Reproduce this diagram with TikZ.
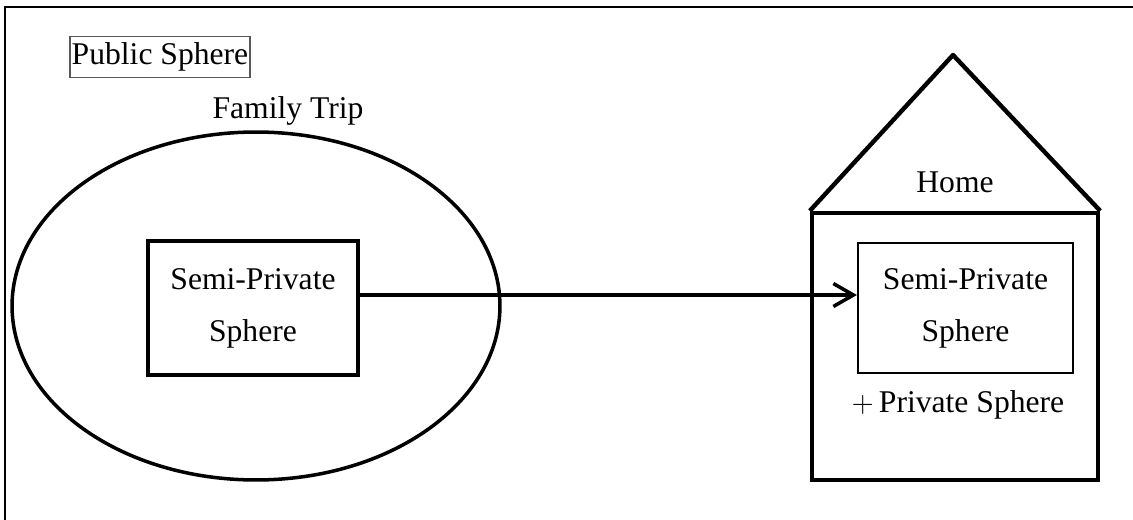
\documentclass[tikz,border=0pt]{standalone}
\usepackage{fontspec}
\setmainfont{Liberation Serif}
\usetikzlibrary{shapes.geometric,arrows.meta}
\begin{document}
\begin{tikzpicture}[x=0.02cm,y=-0.02cm,
    every node/.style={font=\fontsize{18}{29.5}\selectfont},
    sphere/.style={draw,line width=2.2pt,align=center,minimum width=4.2cm,minimum height=2.68cm}]
		    \useasboundingbox (0,0) rectangle (1133,520);
		    % frame
		    \coordinate (fbl) at (5,520);
		    \coordinate (ftl) at (5,7);
		    \coordinate (ftr) at (1133,7);
		    \draw[line width=1.6pt] (fbl) -- (ftl) -- (ftr);
		    \node[draw=gray!70!black,line width=1pt,inner sep=1pt,minimum width=3.6cm,minimum height=0.82cm] (public) at (160,57) {Public Sphere};
		    % family trip
		    \node (triplabel) at (288,111) {Family Trip};
		    \node[ellipse,draw,line width=2pt,minimum width=9.76cm,minimum height=6.96cm] (trip) at (256,306) {};
		    \node[sphere] (lbox) at (253,308) {Semi-Private\\Sphere};
		    % home
		    \node[draw,line width=2.5pt,minimum width=5.72cm,minimum height=5.34cm] (home) at (955,346.5) {};
		    \coordinate (roof) at (953,55);
		    \draw[line width=2.5pt,line join=round] (home.north west) -- (roof) -- (home.north east);
		    \node (homelabel) at (955,182) {Home};
		    \node[sphere,line width=1.3pt,minimum width=4.3cm,minimum height=2.6cm] (rbox) at (965.5,308) {Semi-Private\\Sphere};
		    \node (private) at (958,405) {$+$\,Private Sphere};
		    \draw[-{Straight Barb[length=4mm,width=4.6mm]},line width=2pt] ([yshift=0.26cm]lbox.east) -- ([yshift=0.26cm]rbox.west);
	    \end{tikzpicture}
\end{document}
